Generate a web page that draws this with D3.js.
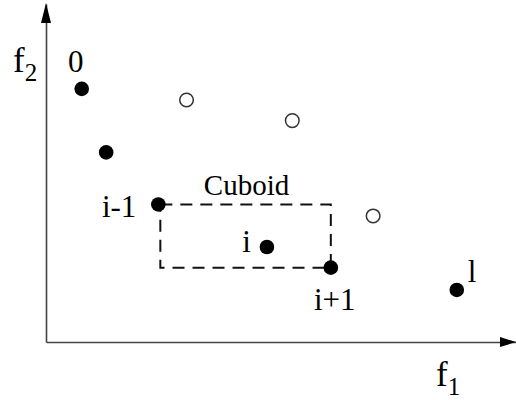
<!DOCTYPE html>
<html>
<head>
<meta charset="utf-8">
<script src="https://cdn.jsdelivr.net/npm/d3@7"></script>
<style>
  html, body { margin: 0; padding: 0; background: #fff; }
  svg { display: block; }
  text { font-family: "Liberation Serif", "Times New Roman", serif; fill: #000; }
</style>
</head>
<body>
<svg id="chart" width="516" height="400"></svg>
<script>
// ---- data (f1, f2 in arbitrary objective units) ----
const frontLabels = ["0", "", "i-1", "i", "i+1", "l"];
const frontF1 = [0.76, 1.28, 2.39, 4.70, 6.06, 8.74];
const frontF2 = [7.49, 5.61, 4.07, 2.81, 2.20, 1.54];
const otherF1 = [2.99, 5.24, 6.96];
const otherF2 = [7.16, 6.55, 3.73];
const cuboidLabel = "Cuboid";
const axisNames = [["f", "1"], ["f", "2"]];

const svg = d3.select("#chart");
const x = d3.scaleLinear().domain([0, 10]).range([46, 516]);
const y = d3.scaleLinear().domain([0, 10]).range([342, 4]);

const axisColor = "#444";
const gx = svg.append("g").attr("transform", `translate(0,${y(0)})`)
  .call(d3.axisBottom(x).tickValues([]).tickSizeOuter(0));
gx.select(".domain").attr("stroke", axisColor).attr("stroke-width", 1.6);
const gy = svg.append("g").attr("transform", `translate(${x(0)},0)`)
  .call(d3.axisLeft(y).tickValues([]).tickSizeOuter(0));
gy.select(".domain").attr("stroke", axisColor).attr("stroke-width", 1.6);

// arrowheads
const xEnd = x(10), yEnd = y(10);
svg.append("path")
  .attr("d", `M${xEnd},${y(0)} L${xEnd - 16},${y(0) - 5} L${xEnd - 16},${y(0) + 5} Z`)
  .attr("fill", "#000");
svg.append("path")
  .attr("d", `M${x(0)},${yEnd - 1} L${x(0) - 5},${yEnd + 19} L${x(0) + 5},${yEnd + 19} Z`)
  .attr("fill", "#000");

// axis names
const fx = svg.append("text").attr("x", 436).attr("y", 386).attr("font-size", 35);
fx.append("tspan").text(axisNames[0][0]);
fx.append("tspan").attr("font-size", 25).attr("dy", 9).text(axisNames[0][1]);
const fy = svg.append("text").attr("x", 13).attr("y", 72).attr("font-size", 35);
fy.append("tspan").text(axisNames[1][0]);
fy.append("tspan").attr("font-size", 25).attr("dy", 9).text(axisNames[1][1]);

// cuboid between i-1 and i+1
const a = 2, b = 4;
svg.append("rect")
  .attr("x", x(frontF1[a]) + 2)
  .attr("y", y(frontF2[a]))
  .attr("width", x(frontF1[b]) - x(frontF1[a]) - 2)
  .attr("height", y(frontF2[b]) - y(frontF2[a]))
  .attr("fill", "none")
  .attr("stroke", "#111")
  .attr("stroke-width", 2)
  .attr("stroke-dasharray", "12,8");
svg.append("text")
  .attr("x", (x(frontF1[a]) + x(frontF1[b])) / 2 + 2)
  .attr("y", y(frontF2[a]) - 9)
  .attr("text-anchor", "middle")
  .attr("font-size", 29)
  .text(cuboidLabel);

// open points
svg.selectAll("circle.other").data(otherF1.map((v, k) => [v, otherF2[k]]))
  .join("circle").attr("class", "other")
  .attr("cx", d => x(d[0])).attr("cy", d => y(d[1]))
  .attr("r", 6.8)
  .attr("fill", "#fff").attr("stroke", "#333").attr("stroke-width", 1.5);

// filled points (front)
const front = frontF1.map((v, k) => ({ f1: v, f2: frontF2[k], label: frontLabels[k] }));
svg.selectAll("circle.front").data(front)
  .join("circle").attr("class", "front")
  .attr("cx", d => x(d.f1)).attr("cy", d => y(d.f2))
  .attr("r", 7.3).attr("fill", "#000");

// label placement (styling, not data)
const place = {
  "0":   { dx: -6,  dy: -17, anchor: "middle" },
  "i-1": { dx: -22, dy: 13,  anchor: "end" },
  "i":   { dx: -16, dy: 5,   anchor: "end" },
  "i+1": { dx: 4,   dy: 42,  anchor: "middle" },
  "l":   { dx: 11,  dy: -8,  anchor: "start" }
};
svg.selectAll("text.lbl").data(front.filter(d => d.label))
  .join("text").attr("class", "lbl")
  .attr("x", d => x(d.f1) + place[d.label].dx)
  .attr("y", d => y(d.f2) + place[d.label].dy)
  .attr("text-anchor", d => place[d.label].anchor)
  .attr("font-size", 31)
  .text(d => d.label);
</script>
</body>
</html>
